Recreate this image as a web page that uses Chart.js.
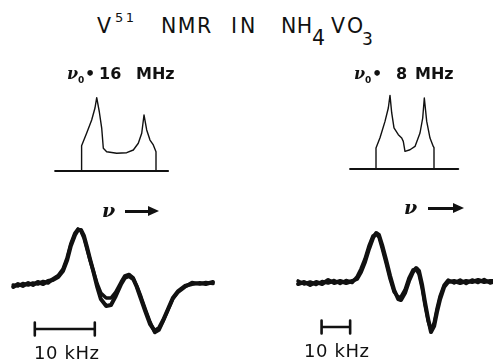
<!DOCTYPE html>
<html>
<head>
<meta charset="utf-8">
<script src="https://cdn.jsdelivr.net/npm/chart.js@4/dist/chart.umd.min.js"></script>
<style>
  html, body { margin: 0; padding: 0; background: #fff; }
  #fig { position: relative; width: 493px; height: 359px; overflow: hidden;
         font-family: "DejaVu Sans", sans-serif; color: #111; }
  #fig canvas { position: absolute; }
  .t { position: absolute; white-space: nowrap; line-height: 1; }
  .title { font-size: 20.5px; }
  .lab { font-size: 16px; font-weight: bold; }
  .nu { font-family: "DejaVu Serif", serif; font-style: italic; font-weight: bold; }
  .khz { font-size: 18px; }
  .arrow { position: absolute; height: 2.6px; background: #111; }
  .arrow::after { content: ""; position: absolute; right: -9px; top: -4px;
                  border-left: 11px solid #111; border-top: 5.3px solid transparent;
                  border-bottom: 5.3px solid transparent; }
</style>
</head>
<body>
<div id="fig">
  <canvas id="powder16" width="240" height="105" style="left:0;top:81px"></canvas>
  <canvas id="powder8" width="240" height="105" style="left:253px;top:79px"></canvas>
  <canvas id="sweep16" width="240" height="169" style="left:0;top:190px"></canvas>
  <canvas id="sweep8" width="240" height="169" style="left:253px;top:190px"></canvas>

  <!-- heading -->
  <div class="t title" style="left:97px;top:15.6px">V</div>
  <div class="t" style="left:115px;top:11px;font-size:13px;letter-spacing:2.5px">51</div>
  <div class="t title" style="left:161px;top:15.6px;letter-spacing:1.5px">NMR</div>
  <div class="t title" style="left:231px;top:15.6px;letter-spacing:3px">IN</div>
  <div class="t title" style="left:281px;top:15.6px;letter-spacing:0.5px">NH</div>
  <div class="t title" style="left:312px;top:28px">4</div>
  <div class="t title" style="left:331px;top:15.6px">V</div>
  <div class="t title" style="left:347px;top:15.6px">O</div>
  <div class="t" style="left:362px;top:30.5px;font-size:17px">3</div>

  <!-- Larmor frequency labels -->
  <div class="t lab" style="left:67px;top:66.4px"><span class="nu">ν</span><sub style="font-size:9px">0</sub></div>
  <div class="t lab" style="left:85px;top:66.4px">•</div>
  <div class="t lab" style="left:99px;top:66.4px">16</div>
  <div class="t lab" style="left:136px;top:66.4px">MHz</div>
  <div class="t lab" style="left:354px;top:66.4px"><span class="nu">ν</span><sub style="font-size:9px">0</sub></div>
  <div class="t lab" style="left:372px;top:66.4px">•</div>
  <div class="t lab" style="left:396px;top:66.4px">8</div>
  <div class="t lab" style="left:415px;top:66.4px">MHz</div>

  <!-- sweep direction -->
  <div class="t nu" style="left:102px;top:201px;font-size:19px">ν</div>
  <div class="arrow" style="left:125px;top:210px;width:25px"></div>
  <div class="t nu" style="left:404px;top:198px;font-size:19px">ν</div>
  <div class="arrow" style="left:428px;top:207px;width:27px"></div>

  <!-- scale bar captions -->
  <div class="t khz" style="left:34px;top:344.4px;letter-spacing:0.6px">10 kHz</div>
  <div class="t khz" style="left:304px;top:342.4px;letter-spacing:0.6px">10 kHz</div>
</div>

<script>
// Calculated central-transition powder patterns (intensity vs. frequency, kHz)
const powder16KHz       = [13.6, 13.6, 14.45, 15.28, 15.83, 16.12, 16.55, 16.95, 17.22, 17.78, 19.45, 21.12, 22.22, 23.05, 23.62, 24.0, 24.45, 25.0, 25.55, 26.0, 26.0];
const powder16Intensity = [0, 0.337, 0.507, 0.68, 0.84, 0.977, 0.79, 0.573, 0.303, 0.257, 0.236, 0.244, 0.28, 0.37, 0.503, 0.747, 0.547, 0.413, 0.347, 0.257, 0];
const powder16Baseline  = [9.2, 28.0];

const powder8KHz        = [43.05, 43.05, 44.45, 46.2, 47.36, 47.95, 48.55, 49.35, 50.86, 52.05, 52.6, 53.2, 54.95, 56.7, 58.45, 59.4, 59.96, 60.8, 61.95, 63.1, 63.35, 63.35];
const powder8Intensity  = [0, 0.28, 0.417, 0.635, 0.813, 0.981, 0.747, 0.547, 0.457, 0.413, 0.368, 0.235, 0.257, 0.301, 0.48, 0.68, 0.947, 0.635, 0.413, 0.301, 0.284, 0];
const powder8Baseline   = [34.0, 71.8];

// Recorded derivative traces, 16 MHz (two sweeps)
const sweep16KHz = [2.2, 3.0, 3.8, 4.7, 5.5, 6.3, 7.2, 8.0, 8.8, 9.7, 10.5, 11.2, 11.8, 12.5, 13.0, 13.5, 14.0, 14.5, 15.0, 15.5, 16.2, 16.8, 17.7, 18.5, 19.3, 20.2, 20.8, 21.5, 22.2, 22.8, 23.5, 24.2, 25.0, 25.8, 26.5, 27.2, 28.0, 28.8, 29.7, 30.8, 32.0, 33.3, 34.3, 35.5];
const sweep16A   = [-0.04, 0.02, -0.02, 0.04, 0.00, 0.06, 0.02, 0.08, 0.10, 0.16, 0.28, 0.50, 0.78, 1.00, 1.10, 1.10, 0.98, 0.76, 0.52, 0.30, -0.04, -0.28, -0.42, -0.40, -0.22, 0.02, 0.14, 0.18, 0.12, -0.04, -0.28, -0.52, -0.78, -0.92, -0.86, -0.70, -0.48, -0.26, -0.12, -0.02, 0.02, 0.04, 0.02, 0.06];
const sweep16B   = [0.00, -0.02, 0.03, 0.00, 0.04, 0.02, 0.07, 0.04, 0.12, 0.19, 0.32, 0.55, 0.82, 1.04, 1.12, 1.08, 0.94, 0.72, 0.50, 0.30, 0.02, -0.16, -0.26, -0.26, -0.14, 0.06, 0.18, 0.21, 0.14, -0.02, -0.24, -0.48, -0.74, -0.95, -0.90, -0.72, -0.50, -0.28, -0.14, -0.04, 0.05, 0.02, 0.05, 0.03];

// Recorded derivative traces, 8 MHz (two sweeps)
const sweep8KHz = [15.8, 17.9, 20.0, 22.1, 24.2, 26.3, 28.4, 30.5, 32.6, 34.7, 36.4, 37.8, 39.2, 40.6, 42.0, 43.1, 44.1, 45.2, 46.6, 48.0, 49.4, 50.8, 51.8, 53.2, 54.6, 56.0, 57.1, 58.1, 59.2, 60.2, 61.3, 62.3, 63.4, 64.4, 65.5, 66.9, 68.3, 70.4, 72.5, 74.6, 76.7, 78.8, 80.9, 83.0, 84.0];
const sweep8A   = [0.02, 0.06, 0.00, 0.06, 0.02, 0.10, 0.04, 0.08, 0.04, 0.08, 0.12, 0.26, 0.46, 0.72, 0.94, 1.04, 1.00, 0.80, 0.50, 0.18, -0.10, -0.28, -0.30, -0.16, 0.08, 0.26, 0.34, 0.28, 0.00, -0.34, -0.68, -0.94, -0.82, -0.54, -0.28, -0.04, 0.06, 0.08, 0.04, 0.08, 0.06, 0.10, 0.06, 0.08, 0.08];
const sweep8B   = [0.08, 0.02, 0.06, 0.01, 0.07, 0.04, 0.09, 0.03, 0.09, 0.05, 0.16, 0.32, 0.52, 0.78, 0.98, 1.02, 0.96, 0.74, 0.44, 0.12, -0.14, -0.24, -0.24, -0.10, 0.14, 0.30, 0.32, 0.22, -0.06, -0.40, -0.72, -0.90, -0.76, -0.48, -0.22, 0.00, 0.10, 0.04, 0.10, 0.03, 0.10, 0.05, 0.11, 0.04, 0.06];

// 10 kHz scale markers: [start, end] in kHz and vertical level
const scaleBar16KHz = [5.8, 15.8];
const scaleBar16Level = -0.88;
const scaleBar8KHz = [24.0, 34.0];
const scaleBar8Level = -0.84;

const INK = '#111';

function pairs(xs, ys) {
  return xs.map((x, i) => ({ x: x, y: ys[i] }));
}

function lineSet(data, width) {
  return { data: data, borderColor: INK, borderWidth: width, pointRadius: 0,
           tension: 0, fill: false, spanGaps: false,
           borderJoinStyle: 'round', borderCapStyle: 'round', clip: false };
}

// bar with short end caps, gaps split by null points
function scaleBar(range, level, cap) {
  const [a, b] = range;
  return [
    { x: a, y: level + cap }, { x: a, y: level - cap }, { x: a, y: null },
    { x: a, y: level }, { x: b, y: level }, { x: b, y: null },
    { x: b, y: level + cap }, { x: b, y: level - cap }
  ];
}

function plot(id, xMin, xMax, yMin, yMax, datasets) {
  return new Chart(document.getElementById(id), {
    type: 'line',
    data: { datasets: datasets },
    options: {
      responsive: false, animation: false, events: [],
      layout: { padding: 0 },
      plugins: { legend: { display: false }, tooltip: { enabled: false } },
      scales: {
        x: { type: 'linear', min: xMin, max: xMax, display: false },
        y: { type: 'linear', min: yMin, max: yMax, display: false }
      }
    }
  });
}

plot('powder16', 0, 40, -0.2, 1.2, [
  lineSet(pairs(powder16Baseline, [0, 0]), 2.2),
  lineSet(pairs(powder16KHz, powder16Intensity), 1.4)
]);

plot('powder8', 0, 84, -0.2, 1.2, [
  lineSet(pairs(powder8Baseline, [0, 0]), 2.2),
  lineSet(pairs(powder8KHz, powder8Intensity), 1.4)
]);

plot('sweep16', 0, 40, -1.48, 1.9, [
  lineSet(pairs(sweep16KHz, sweep16A), 4.0),
  lineSet(pairs(sweep16KHz, sweep16B), 3.6),
  lineSet(scaleBar(scaleBar16KHz, scaleBar16Level, 0.13), 2.6)
]);

plot('sweep8', 0, 84, -1.48, 1.9, [
  lineSet(pairs(sweep8KHz, sweep8A), 4.0),
  lineSet(pairs(sweep8KHz, sweep8B), 3.6),
  lineSet(scaleBar(scaleBar8KHz, scaleBar8Level, 0.13), 2.6)
]);
</script>
</body>
</html>
